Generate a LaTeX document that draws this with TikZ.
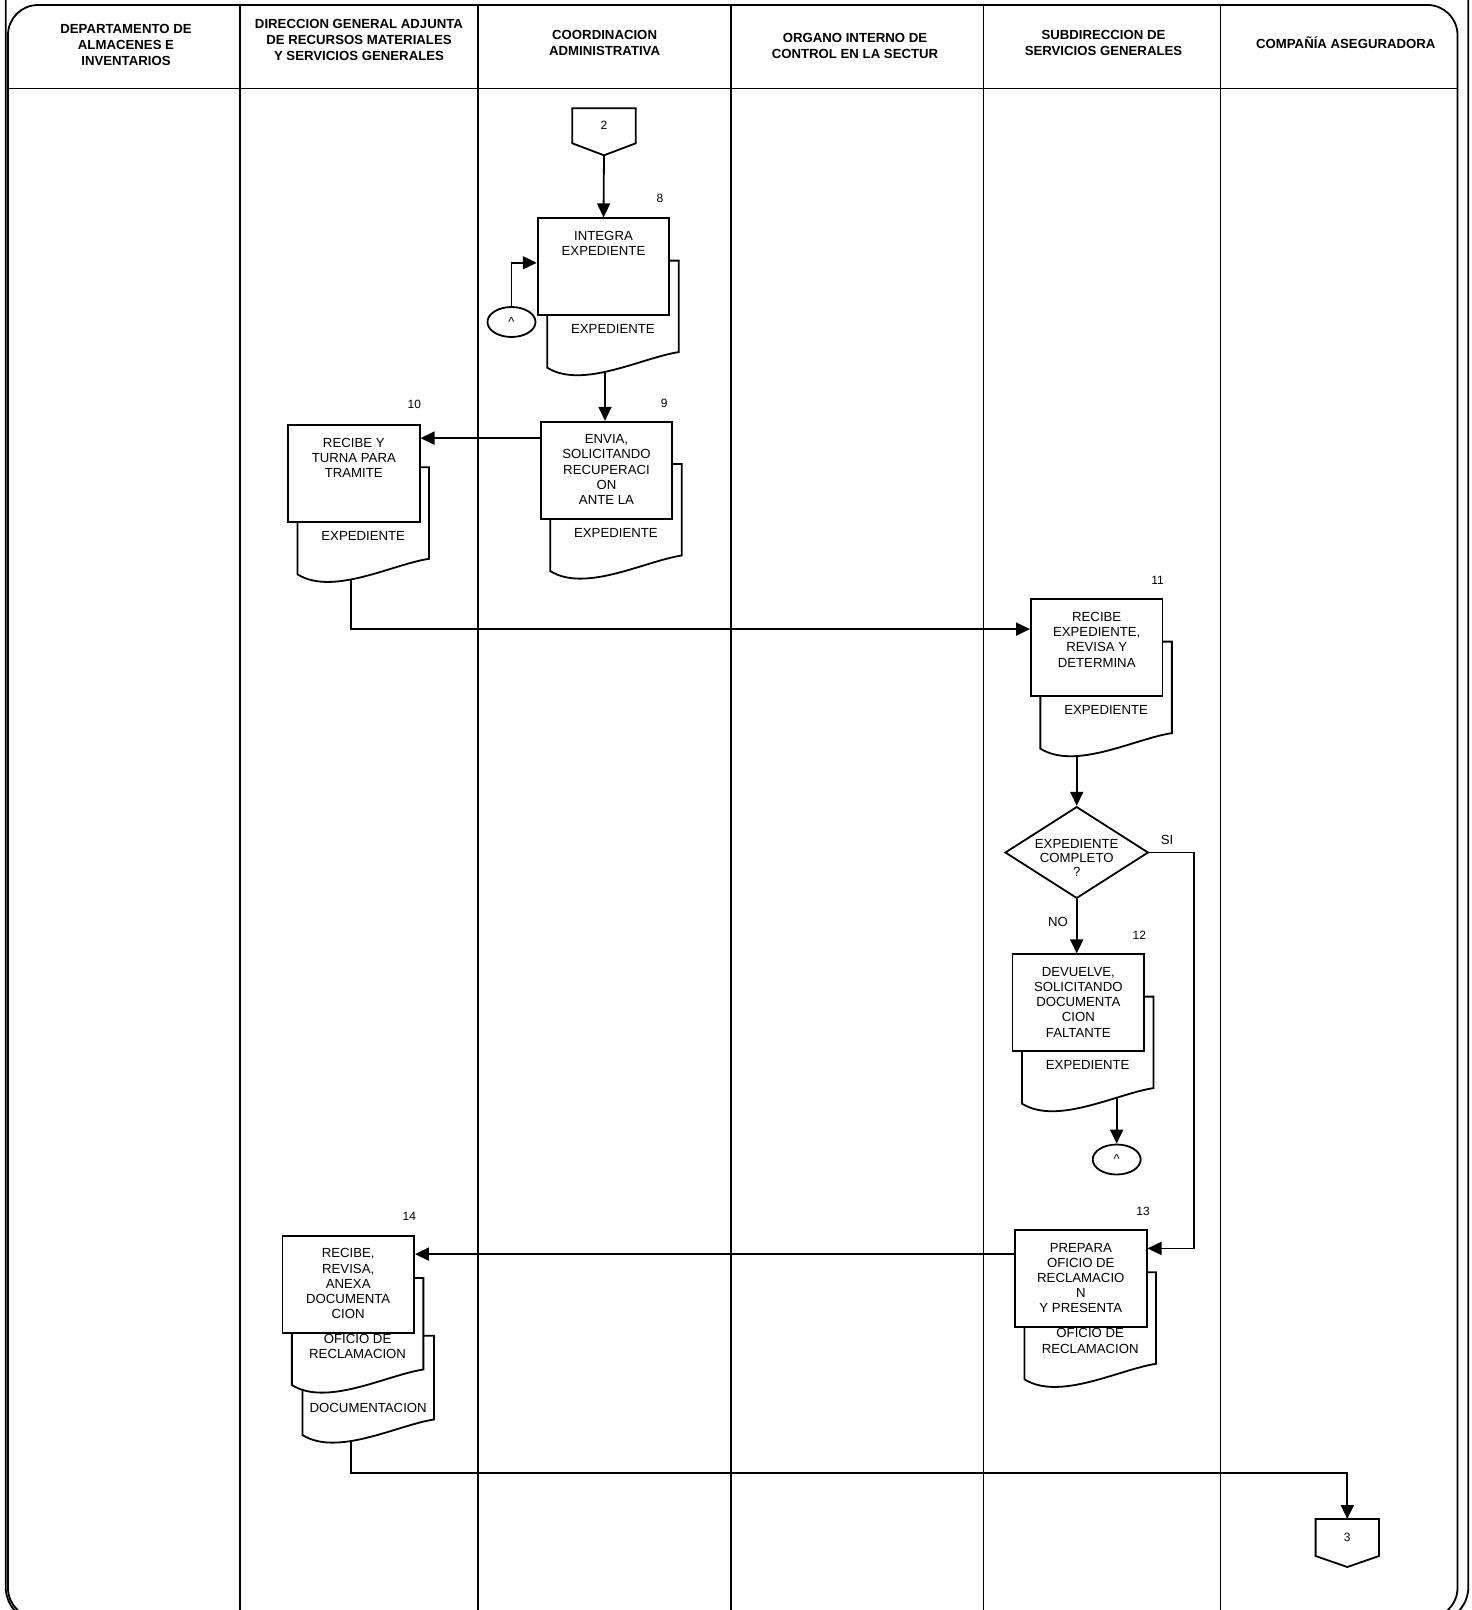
\documentclass[tikz,border=0pt]{standalone}
\usepackage{fontspec}
\setmainfont{Liberation Sans}
\usetikzlibrary{arrows.meta,shapes.geometric}
\def\bodyfont{\fontsize{13.2}{15.2}\selectfont}
\def\headfont{\bfseries\fontsize{13.2}{15.8}\selectfont}
\def\docu#1(#2)#3#4{\draw[docline] (#2) -- ++(131.5,0) -- ++(0,#3-15.5) .. controls +(-36.5,5.5) and +(35,22) .. ++(-131.5,15.5) coordinate[pos=#4] (#1) -- cycle;}
\tikzset{
	ln/.style={line width=1.8pt},
	arr/.style={ln, -{Triangle[length=14pt,width=13pt]}},
	head/.style={font=\headfont, align=center},
	proc/.style={ln, draw, fill=white, inner xsep=2pt, inner ysep=13pt, font=\bodyfont,
		execute at begin node={\begin{minipage}[t][71pt][t]{127.6pt}\centering},
		execute at end node={\end{minipage}}},
	docline/.style={ln, draw, fill=white},
	doctext/.style={font=\bodyfont, align=center, inner sep=0pt},
	num/.style={font=\fontsize{12}{14}\selectfont, inner sep=0pt},
	decision/.style={ln, diamond, draw, fill=white, minimum width=143.3pt, minimum height=91.7pt, inner sep=0pt},
	dectext/.style={font=\fontsize{13.2}{14}\selectfont, align=center, inner sep=0pt},
	offpage/.style={minimum width=63.4pt, minimum height=35pt, inner sep=0pt, outer sep=0pt, font=\fontsize{12}{14}\selectfont},
	onpage/.style={ln, ellipse, draw, fill=white, minimum width=48pt, minimum height=30pt, inner sep=0pt, font=\fontsize{13}{14}\selectfont}
}
\begin{document}
\begin{tikzpicture}[x=1pt, y=-1pt]
	\useasboundingbox (0,0) rectangle (1472,1610);
	\clip (0,0) rectangle (1472,1610);
	%%%%% FRAME %%%%%
	\draw[ln, rounded corners=35pt] (5.7,-60) rectangle (1468.3,1622);
	\draw[ln, rounded corners=30pt] (8,5) rectangle (1457.5,1618);
	\draw[ln] (8,88.5) -- (1457.5,88.5);
	\foreach \x in {240.2,478.3,731,983.4,1220.5}
		\draw[ln] (\x,5) -- (\x,1640);
	
	\node[head] (h1) at (126,45.2) {DEPARTAMENTO DE\\ALMACENES E\\INVENTARIOS};
	\node[head] (h2) at (359,40) {DIRECCION GENERAL ADJUNTA\\DE RECURSOS MATERIALES\\Y SERVICIOS GENERALES};
	\node[head] (h3) at (604.6,43.1) {COORDINACION\\ADMINISTRATIVA};
	\node[head] (h4) at (855,46.2) {ORGANO INTERNO DE\\CONTROL EN LA SECTUR};
	\node[head] (h5) at (1103.5,43.2) {SUBDIRECCION DE\\SERVICIOS GENERALES};
	\node[head] (h6) at (1345.8,43) {COMPAÑÍA ASEGURADORA};
	
	%%%%% DOCUMENTS %%%%%
	\docu{d8-out}(547.15,260.6){107}{0.551}
	\node[doctext] (t8) at (612.9,329.2) {EXPEDIENTE};
	\docu{d9-out}(550.15,464){107}{0.5}
	\node[doctext] (t9) at (615.9,532.6) {EXPEDIENTE};
	\docu{d10-out}(297.45,467.3){107}{0.584}
	\node[doctext] (t10) at (363.2,535.9) {EXPEDIENTE};
	\docu{d11-out}(1040.35,641.6){107}{0.704}
	\node[doctext] (t11) at (1106.1,710.2) {EXPEDIENTE};
	\docu{d12-out}(1021.95,996.6){107}{0.292}
	\node[doctext] (t12) at (1087.7,1065.2) {EXPEDIENTE};
	\docu{d13-out}(1024.45,1272.3){107}{0.5}
	\node[doctext] (t13) at (1090.2,1340.9) {OFICIO DE\\RECLAMACION};
	\docu{d14b-out}(302.45,1335.7){99.3}{0.617}
	\node[doctext] (t14b) at (368.2,1408) {DOCUMENTACION};
	\docu{d14a-out}(291.85,1278){107}{0.5}
	\node[doctext] (t14a) at (357.6,1346.6) {OFICIO DE\\RECLAMACION};
	
	%%%%% STEPS %%%%%
	\node[proc] (p8) at (603.5,266.8) {INTEGRA\\EXPEDIENTE};
	\node[proc] (p9) at (606.5,470.2) {ENVIA,\\SOLICITANDO\\RECUPERACI\\ON\\ANTE LA};
	\node[proc] (p10) at (353.8,473.5) {RECIBE Y\\TURNA PARA\\TRAMITE};
	\node[proc] (p11) at (1096.7,647.8) {RECIBE\\EXPEDIENTE,\\REVISA Y\\DETERMINA};
	\node[proc] (p12) at (1078.3,1002.8) {DEVUELVE,\\SOLICITANDO\\DOCUMENTA\\CION\\FALTANTE};
	\node[proc] (p13) at (1080.8,1278.5) {PREPARA\\OFICIO DE\\RECLAMACIO\\N\\Y PRESENTA};
	\node[proc] (p14) at (348.2,1284.2) {RECIBE,\\REVISA,\\ANEXA\\DOCUMENTA\\CION};
	
	\node[num] (n8) at (660,198) {8};
	\node[num] (n9) at (664.3,403.3) {9};
	\node[num] (n10) at (414.3,404) {10};
	\node[num] (n11) at (1157.5,580) {11};
	\node[num] (n12) at (1139.3,935) {12};
	\node[num] (n13) at (1143,1211.7) {13};
	\node[num] (n14) at (409.3,1216.7) {14};
	
	\node[decision] (dec) at (1076.7,852.5) {};
	\node[dectext] (dect) at (1076.7,858) {EXPEDIENTE\\COMPLETO\\?};
	\node[doctext] (si) at (1167,840) {SI};
	\node[doctext] (no) at (1058,922) {NO};
	
	%%%%% CONNECTORS %%%%%
	\node[offpage] (c2) at (604,125.8) {2};
	\coordinate (c2-tip) at ([yshift=-12pt]c2.south);
	\draw[ln] (c2.north west) -- (c2.north east) -- (c2.south east) -- (c2-tip) -- (c2.south west) -- cycle;
	\node[offpage, minimum height=37pt] (c3) at (1347.3,1537.5) {3};
	\coordinate (c3-tip) at ([yshift=-11pt]c3.south);
	\draw[ln] (c3.north west) -- (c3.north east) -- (c3.south east) -- (c3-tip) -- (c3.south west) -- cycle;
	\node[onpage] (cA) at (511.5,322) {\textasciicircum};
	\node[onpage] (cB) at (1116.7,1159.5) {\textasciicircum};
	
	\coordinate (a9) at ([yshift=-17.3pt]p9.north west);
	\coordinate (a13) at ([yshift=-25pt]p13.north west);
	\draw[arr] (c2-tip) -- (p8.north);
	\draw[arr] (cA.north) |- ([yshift=4pt]p8.west);
	\draw[arr] (d8-out) -- (d8-out |- p9.north);
	\draw[arr] (a9) -- (a9 -| p10.east);
	\draw[arr] (d10-out) |- ([yshift=-30.7pt]p11.north west);
	\draw[arr] (d11-out) -- (d11-out |- dec.north);
	\draw[arr] (dec.south) -- (dec.south |- p12.north);
	\draw[arr] (d12-out) -- (d12-out |- cB.north);
	\draw[arr] (dec.east) -- ++(45,0) |- ([yshift=-19.3pt]p13.north east);
	\draw[arr] (a13) -- (a13 -| p14.east);
	\draw[arr] (d14b-out) |- ([yshift=45.7pt]c3.north) -- (c3.north);
\end{tikzpicture}
\end{document}
